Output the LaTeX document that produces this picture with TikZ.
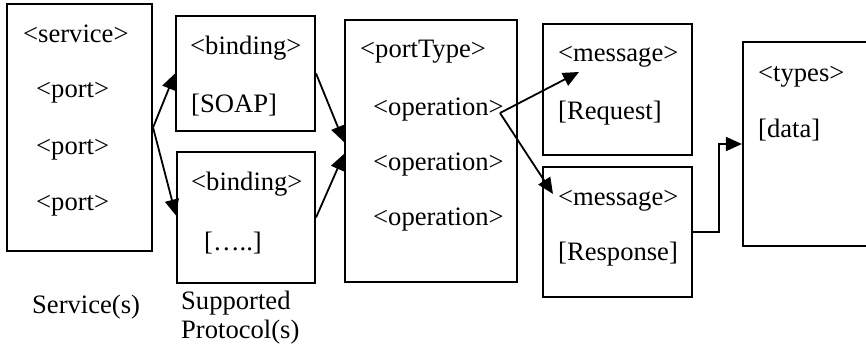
\documentclass[tikz,border=0pt]{standalone}
\usepackage{fontspec}
\setmainfont{Liberation Serif}
\usetikzlibrary{arrows.meta}
\begin{document}
\begin{tikzpicture}[x=1pt,y=-1pt,
  box/.style={draw,line width=2.1pt,inner sep=0pt,rectangle},
  lbl/.style={anchor=base west,inner sep=0pt,font=\fontsize{26.6}{30}\selectfont},
  link/.style={line width=1.8pt,line join=miter,-{Triangle[length=16pt 0 1,width=14pt 0 1]}}]
\useasboundingbox (0,0) rectangle (866,350);
\clip (0,0) rectangle (866,350);

% boxes
\node[box,minimum width=145pt,minimum height=247pt] (service) at (79.5,127.5) {};
\node[box,minimum width=139pt,minimum height=115pt] (bindA) at (245.5,73.5) {};
\node[box,minimum width=138pt,minimum height=131pt] (bindB) at (246,217.5) {};
\node[box,minimum width=172pt,minimum height=262pt] (ptype) at (431,151) {};
\node[box,minimum width=149pt,minimum height=131pt] (msgA) at (617.5,89.5) {};
\node[box,minimum width=149pt,minimum height=130pt] (msgB) at (617.5,232) {};
\node[box,minimum width=160pt,minimum height=204pt] (types) at (823,144) {};

% texts
\node[lbl] (t1) at (23,43) {<service>};
\node[lbl] (t2) at (36,98) {<port>};
\node[lbl] (t3) at (36,154) {<port>};
\node[lbl] (t4) at (36,210) {<port>};
\node[lbl] (t5) at (32,313) {Service(s)};
\node[lbl] (t6) at (190,55) {<binding>};
\node[lbl] (t7) at (191,112) {[SOAP]};
\node[lbl] (t8) at (191,190) {<binding>};
\node[lbl] (t9) at (204,250) {[…..]};
\node[lbl] (t10) at (181,309) {Supported};
\node[lbl] (t11) at (181,338) {Protocol(s)};
\node[lbl] (t12) at (360,58) {<portType>};
\node[lbl] (t13) at (373,115) {<operation>};
\node[lbl] (t14) at (373,170) {<operation>};
\node[lbl] (t15) at (373,225) {<operation>};
\node[lbl] (t16) at (558,62) {<message>};
\node[lbl] (t17) at (558,119) {[Request]};
\node[lbl] (t18) at (558,205) {<message>};
\node[lbl] (t19) at (558,260) {[Response]};
\node[lbl] (t20) at (758,82) {<types>};
\node[lbl] (t21) at (758,137) {[data]};

% connector points
\coordinate (fork) at (500,113);
\coordinate (reqTip) at (579,72);
\coordinate (resTip) at (553,194);

% connectors
\draw[link] (service.east) -- (bindA.west);
\draw[link] (service.east) -- ([yshift=2pt]bindB.west);
\draw[link] (bindA.east) -- ([yshift=9pt]ptype.west);
\draw[link] (bindB.east) -- ([yshift=-3pt]ptype.west);
\draw[link] (fork) -- (reqTip);
\draw[link] (fork) -- (resTip);
\draw[link] (msgB.east) -- ++(26,0) |- (types.west);
\end{tikzpicture}
\end{document}
